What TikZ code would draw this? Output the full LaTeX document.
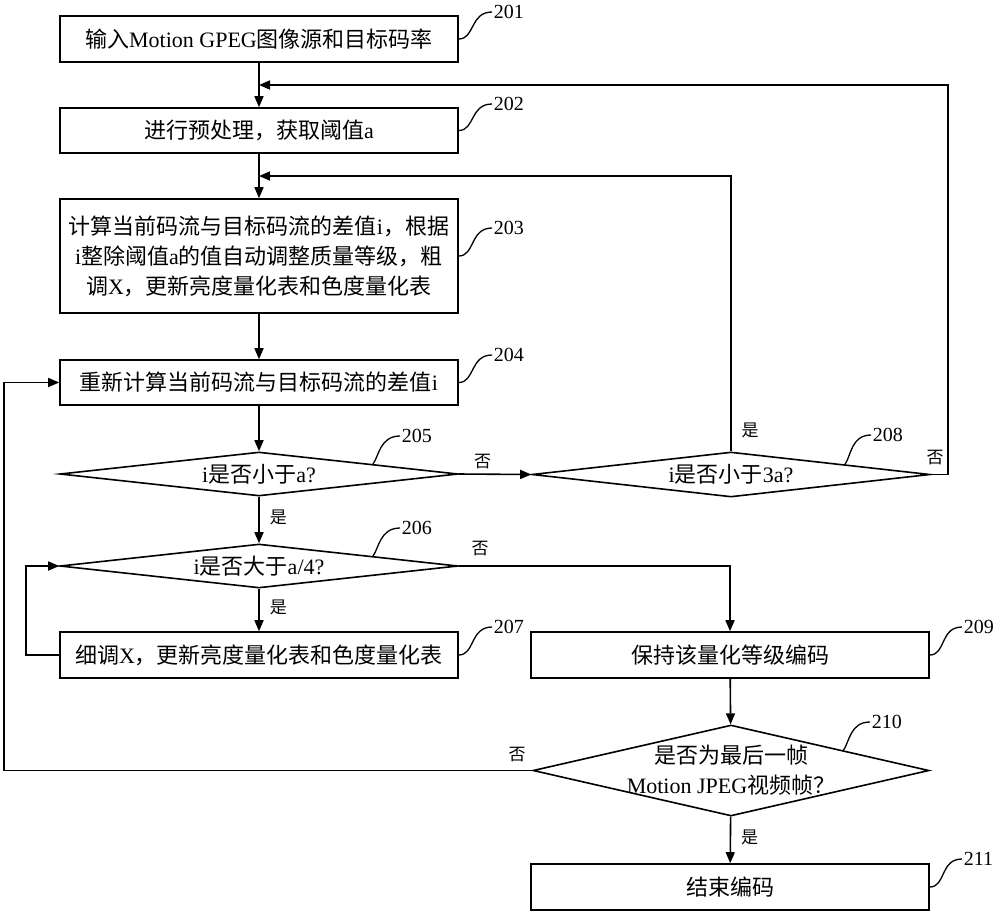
\documentclass[tikz,border=0pt]{standalone}
\usepackage{fontspec}
\setmainfont{Liberation Serif}
\newfontfamily\cjk{Noto Sans CJK SC}
\usetikzlibrary{arrows.meta,shapes.geometric,calc}
\newcommand{\zhs}[1]{{\cjk #1}}
\begin{document}
\begin{tikzpicture}[x=1pt,y=-1pt,line width=1.6pt,
  box/.style={draw,rectangle,minimum width=398pt,minimum height=46pt,inner sep=0pt,align=center,font=\fontsize{22}{30}\selectfont},
  dia/.style={draw,diamond,aspect=9,minimum width=398pt,minimum height=44pt,inner sep=0pt},
  txt/.style={inner sep=0pt,align=center,font=\fontsize{22}{30}\selectfont},
  arr/.style={-{Triangle[length=11pt,width=9pt]}},
  num/.style={inner sep=1pt,anchor=west,font=\fontsize{20}{22}\selectfont},
  yn/.style={inner sep=0pt,font=\cjk\fontsize{17}{19}\selectfont},
  call/.style={line width=1.3pt}]
\useasboundingbox[fill=white] (0,0) rectangle (1000,914);
% nodes
\node[box] (b201) at (259,39) {\zhs{输入}Motion GPEG\zhs{图像源和目标码率}};
\node[box,minimum height=45pt] (b202) at (259,130.5) {\zhs{进行预处理，获取阈值}a};
\node[box,minimum height=114pt] (b203) at (259,256) {\zhs{计算当前码流与目标码流的差值}i\zhs{，根据}\\i\zhs{整除阈值}a\zhs{的值自动调整质量等级，粗}\\\zhs{调}X\zhs{，更新亮度量化表和色度量化表}};
\node[box,minimum height=45pt] (b204) at (259,382.5) {\zhs{重新计算当前码流与目标码流的差值}i};
\node[dia] (d205) at (259,474) {};
\node[txt] (t205) at (d205.center) {i\zhs{是否小于}a?};
\node[dia] (d206) at (259,566) {};
\node[txt] (t206) at (d206.center) {i\zhs{是否大于}a/4?};
\node[box] (b207) at (259,655) {\zhs{细调}X\zhs{，更新亮度量化表和色度量化表}};
\node[dia,minimum height=45pt] (d208) at (731,474.5) {};
\node[txt] (t208) at (d208.center) {i\zhs{是否小于}3a?};
\node[box] (b209) at (730,655) {\zhs{保持该量化等级编码}};
\node[dia,minimum width=396pt,minimum height=91pt,aspect=4.35] (d210) at (731,770.5) {};
\node[txt] (t210) at (d210.center) {\zhs{是否为最后一帧}\\Motion JPEG\zhs{视频帧？}};
\node[box] (b211) at (730,887) {\zhs{结束编码}};
% number labels
\node[num] (l201) at (492,12) {201};
\node[num] (l202) at (492,104) {202};
\node[num] (l203) at (492,228) {203};
\node[num] (l204) at (492,355) {204};
\node[num] (l205) at (400,436) {205};
\node[num] (l206) at (400,528) {206};
\node[num] (l207) at (492,627) {207};
\node[num] (l208) at (871,435) {208};
\node[num] (l209) at (962,627) {209};
\node[num] (l210) at (870,722) {210};
\node[num] (l211) at (962,859) {211};
% callouts
\foreach \b/\l in {b201/l201,b202/l202,b203/l203,b204/l204,b207/l207,b209/l209,b211/l211}
  \draw[call] (\b.east) .. controls +(16,0) and +(-22,0) .. (\l.west);
\coordinate (c205) at ($(d205.north)!0.57!(d205.east)$);
\coordinate (c206) at ($(d206.north)!0.57!(d206.east)$);
\coordinate (c208) at ($(d208.north)!0.57!(d208.east)$);
\coordinate (c210) at ($(d210.north)!0.565!(d210.east)$);
\foreach \c/\l in {c205/l205,c206/l206,c208/l208,c210/l210}
  \draw[call] (\c) .. controls +(6,-8) and +(-20,0) .. (\l.west);
% junction coordinates
\coordinate (j1) at ($(b201.south)!0.5!(b202.north)$);
\coordinate (j2) at ($(b202.south)!0.5!(b203.north)$);
\coordinate (r208) at (948,474.5);
\coordinate (r210) at (4,770.5);
\coordinate (r207) at (26,655);
% main flow
\draw[arr] (b201) -- (b202);
\draw[arr] (b202) -- (b203);
\draw[arr] (b203) -- (b204);
\draw[arr] (b204) -- (d205);
\draw[arr] (d205) -- node[yn,right=10pt,pos=0.45] (y205) {是} (d206);
\draw[arr] (d206) -- node[yn,right=10pt,pos=0.45] (y206) {是} (b207);
\draw[arr] (b207.west) -- (r207) |- (d206.west);
\draw[arr] (d205.east) -- node[yn,above=5pt,pos=0.33] (n205) {否} (d208.west);
\draw[arr] (d208.north) -- (d208.north |- j2) -- (j2);
\node[yn] (y208) at (750,430) {是};
\draw[arr] (d208.east) -- (r208) |- (j1);
\node[yn] (n208) at (935,458) {否};
\draw[arr] (d206.east) -| (b209.north);
\node[yn] (n206) at (480,549) {否};
\draw[arr] (b209) -- (d210);
\draw[arr] (d210) -- node[yn,right=10pt,pos=0.45] (y210) {是} (b211);
\draw[arr] (d210.west) -- (r210) |- (b204.west);
\node[yn] (n210) at (517,755) {否};
\end{tikzpicture}
\end{document}
